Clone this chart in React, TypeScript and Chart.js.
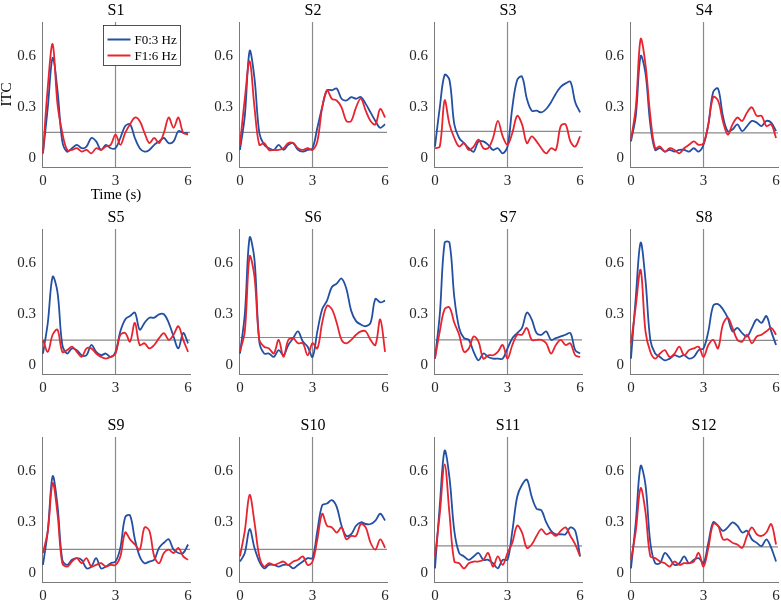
import React, { useEffect, useRef } from 'react';
import { Chart, registerables } from 'chart.js';

Chart.register(...registerables);

// time axis (s)
const time = [0, 0.2, 0.4, 0.6, 0.8, 1.0, 1.2, 1.4, 1.6, 1.8, 2.0, 2.2, 2.4, 2.6, 2.8, 3.0,
  3.2, 3.4, 3.6, 3.8, 4.0, 4.2, 4.4, 4.6, 4.8, 5.0, 5.2, 5.4, 5.6, 5.8, 6.0];

const panelNames = ['S1', 'S2', 'S3', 'S4', 'S5', 'S6', 'S7', 'S8', 'S9', 'S10', 'S11', 'S12'];
const seriesLabels = ['F0:3 Hz', 'F1:6 Hz'];
const yTickValues = [0, 0.3, 0.6];
const xTickValues = [0, 3, 6];
const onsetTime = 3;
const thresholds = [0.153, 0.153, 0.159, 0.15, 0.148, 0.164, 0.15, 0.147, 0.141, 0.141, 0.162, 0.156];

// F0: 3 Hz (blue) / F1: 6 Hz (red)
const s1F0 = [0.03, 0.3, 0.59, 0.4, 0.1, 0.04, 0.06, 0.08, 0.06, 0.07, 0.12, 0.1, 0.05, 0.08, 0.06, 0.06, 0.12, 0.19, 0.2, 0.12, 0.06, 0.04, 0.05, 0.08, 0.1, 0.12, 0.09, 0.1, 0.16, 0.15, 0.15];
const s1F1 = [0.03, 0.42, 0.67, 0.32, 0.15, 0.05, 0.05, 0.06, 0.04, 0.05, 0.03, 0.06, 0.05, 0.07, 0.08, 0.14, 0.08, 0.15, 0.2, 0.24, 0.22, 0.15, 0.09, 0.12, 0.09, 0.15, 0.24, 0.18, 0.24, 0.15, 0.14];
const s2F0 = [0.05, 0.25, 0.63, 0.47, 0.15, 0.08, 0.06, 0.05, 0.08, 0.05, 0.08, 0.09, 0.05, 0.04, 0.05, 0.06, 0.18, 0.3, 0.4, 0.4, 0.41, 0.35, 0.34, 0.36, 0.35, 0.36, 0.32, 0.27, 0.22, 0.18, 0.2];
const s2F1 = [0.08, 0.35, 0.57, 0.3, 0.08, 0.09, 0.05, 0.05, 0.05, 0.06, 0.09, 0.09, 0.06, 0.05, 0.06, 0.05, 0.1, 0.3, 0.4, 0.35, 0.34, 0.3, 0.22, 0.22, 0.3, 0.35, 0.28, 0.22, 0.2, 0.29, 0.24];
const s3F0 = [0.07, 0.3, 0.49, 0.46, 0.2, 0.12, 0.09, 0.06, 0.04, 0.1, 0.1, 0.08, 0.05, 0.06, 0.03, 0.07, 0.3, 0.46, 0.48, 0.35, 0.28, 0.28, 0.27, 0.29, 0.33, 0.38, 0.42, 0.44, 0.45, 0.33, 0.27];
const s3F1 = [0.06, 0.07, 0.34, 0.2, 0.12, 0.07, 0.09, 0.05, 0.07, 0.11, 0.06, 0.06, 0.12, 0.22, 0.13, 0.08, 0.15, 0.25, 0.2, 0.09, 0.13, 0.1, 0.06, 0.03, 0.06, 0.05, 0.19, 0.2, 0.1, 0.07, 0.13];
const s4F0 = [0.1, 0.25, 0.6, 0.5, 0.2, 0.05, 0.06, 0.04, 0.05, 0.04, 0.05, 0.05, 0.04, 0.06, 0.04, 0.08, 0.2, 0.39, 0.41, 0.25, 0.16, 0.17, 0.2, 0.16, 0.19, 0.22, 0.21, 0.19, 0.22, 0.21, 0.16];
const s4F1 = [0.11, 0.3, 0.7, 0.55, 0.25, 0.06, 0.07, 0.04, 0.06, 0.05, 0.03, 0.06, 0.08, 0.1, 0.08, 0.09, 0.2, 0.36, 0.34, 0.22, 0.14, 0.2, 0.24, 0.22, 0.27, 0.3, 0.25, 0.25, 0.19, 0.2, 0.12];
const s5F0 = [0.07, 0.25, 0.52, 0.43, 0.12, 0.07, 0.1, 0.09, 0.06, 0.06, 0.12, 0.08, 0.06, 0.07, 0.05, 0.08, 0.2, 0.27, 0.29, 0.31, 0.21, 0.25, 0.28, 0.28, 0.3, 0.3, 0.25, 0.17, 0.1, 0.19, 0.13];
const s5F1 = [0.15, 0.08, 0.18, 0.21, 0.08, 0.09, 0.11, 0.08, 0.05, 0.1, 0.1, 0.07, 0.05, 0.04, 0.05, 0.07, 0.18, 0.19, 0.14, 0.25, 0.12, 0.13, 0.1, 0.12, 0.16, 0.19, 0.15, 0.18, 0.23, 0.15, 0.08];
const s6F0 = [0.07, 0.3, 0.75, 0.62, 0.14, 0.07, 0.07, 0.05, 0.09, 0.06, 0.12, 0.16, 0.2, 0.14, 0.11, 0.05, 0.2, 0.33, 0.38, 0.46, 0.48, 0.51, 0.45, 0.32, 0.26, 0.24, 0.23, 0.25, 0.39, 0.37, 0.38];
const s6F1 = [0.08, 0.2, 0.64, 0.52, 0.15, 0.11, 0.1, 0.07, 0.15, 0.05, 0.15, 0.16, 0.13, 0.13, 0.06, 0.13, 0.1, 0.25, 0.35, 0.33, 0.25, 0.15, 0.13, 0.15, 0.18, 0.2, 0.2, 0.15, 0.12, 0.27, 0.08];
const s7F0 = [0.04, 0.3, 0.72, 0.72, 0.4, 0.22, 0.16, 0.15, 0.08, 0.03, 0.07, 0.05, 0.04, 0.04, 0.04, 0.1, 0.16, 0.19, 0.22, 0.31, 0.27, 0.19, 0.18, 0.2, 0.15, 0.16, 0.17, 0.18, 0.19, 0.09, 0.07];
const s7F1 = [0.04, 0.2, 0.33, 0.34, 0.25, 0.18, 0.08, 0.1, 0.17, 0.14, 0.04, 0.06, 0.06, 0.08, 0.12, 0.04, 0.12, 0.18, 0.18, 0.22, 0.15, 0.15, 0.15, 0.13, 0.07, 0.12, 0.15, 0.12, 0.13, 0.06, 0.05];
const s8F0 = [0.04, 0.4, 0.72, 0.5, 0.15, 0.07, 0.05, 0.03, 0.04, 0.06, 0.05, 0.06, 0.04, 0.05, 0.09, 0.1, 0.2, 0.35, 0.36, 0.33, 0.28, 0.2, 0.22, 0.19, 0.17, 0.22, 0.27, 0.25, 0.29, 0.2, 0.12];
const s8F1 = [0.13, 0.35, 0.56, 0.2, 0.08, 0.04, 0.07, 0.09, 0.05, 0.07, 0.11, 0.06, 0.09, 0.1, 0.11, 0.05, 0.12, 0.15, 0.1, 0.24, 0.28, 0.22, 0.15, 0.14, 0.18, 0.13, 0.17, 0.18, 0.2, 0.22, 0.18];
const s9F0 = [0.05, 0.25, 0.57, 0.4, 0.08, 0.05, 0.08, 0.09, 0.08, 0.03, 0.04, 0.09, 0.03, 0.04, 0.06, 0.07, 0.15, 0.33, 0.34, 0.2, 0.1, 0.06, 0.07, 0.08, 0.15, 0.18, 0.2, 0.14, 0.12, 0.12, 0.17];
const s9F1 = [0.12, 0.25, 0.53, 0.35, 0.06, 0.04, 0.07, 0.09, 0.06, 0.09, 0.04, 0.05, 0.06, 0.04, 0.05, 0.05, 0.1, 0.24, 0.2, 0.17, 0.14, 0.27, 0.25, 0.1, 0.06, 0.12, 0.14, 0.12, 0.15, 0.1, 0.08];
const s10F0 = [0.07, 0.12, 0.26, 0.15, 0.07, 0.03, 0.05, 0.05, 0.04, 0.05, 0.05, 0.03, 0.05, 0.07, 0.09, 0.09, 0.25, 0.4, 0.41, 0.43, 0.39, 0.28, 0.22, 0.23, 0.28, 0.3, 0.29, 0.29, 0.31, 0.35, 0.31];
const s10F1 = [0.1, 0.25, 0.46, 0.3, 0.1, 0.04, 0.06, 0.05, 0.06, 0.07, 0.05, 0.07, 0.08, 0.1, 0.05, 0.07, 0.2, 0.35, 0.28, 0.27, 0.24, 0.27, 0.2, 0.22, 0.22, 0.29, 0.27, 0.18, 0.14, 0.2, 0.15];
const s11F0 = [0.03, 0.4, 0.72, 0.56, 0.25, 0.12, 0.1, 0.08, 0.1, 0.12, 0.08, 0.08, 0.06, 0.03, 0.08, 0.08, 0.25, 0.45, 0.52, 0.55, 0.45, 0.38, 0.37, 0.3, 0.25, 0.23, 0.23, 0.23, 0.27, 0.25, 0.1];
const s11F1 = [0.1, 0.35, 0.64, 0.35, 0.07, 0.06, 0.03, 0.06, 0.07, 0.07, 0.08, 0.12, 0.04, 0.1, 0.05, 0.12, 0.18, 0.28, 0.24, 0.15, 0.17, 0.22, 0.26, 0.23, 0.24, 0.22, 0.25, 0.27, 0.22, 0.17, 0.1];
const s12F0 = [0.03, 0.3, 0.63, 0.52, 0.18, 0.06, 0.06, 0.12, 0.09, 0.05, 0.06, 0.1, 0.06, 0.08, 0.09, 0.06, 0.18, 0.3, 0.28, 0.25, 0.27, 0.3, 0.28, 0.24, 0.25, 0.2, 0.18, 0.16, 0.2, 0.15, 0.07];
const s12F1 = [0.08, 0.25, 0.5, 0.36, 0.1, 0.09, 0.07, 0.06, 0.04, 0.07, 0.05, 0.06, 0.06, 0.07, 0.12, 0.04, 0.15, 0.29, 0.28, 0.2, 0.2, 0.18, 0.17, 0.15, 0.22, 0.27, 0.23, 0.22, 0.24, 0.29, 0.17];

const f0Series = [s1F0, s2F0, s3F0, s4F0, s5F0, s6F0, s7F0, s8F0, s9F0, s10F0, s11F0, s12F0];
const f1Series = [s1F1, s2F1, s3F1, s4F1, s5F1, s6F1, s7F1, s8F1, s9F1, s10F1, s11F1, s12F1];

const X_MIN = -0.04;
const X_MAX = 6.08;
const Y_MIN = -0.05;
const Y_MAX = 0.8;

const BLUE = '#2350a3';
const RED = '#e8242f';
const GRAY = '#8a8a8a';
const FONT = "'Liberation Serif', 'DejaVu Serif', serif";

// page layout of the grid
const colLefts = [42.3, 239, 434.3, 630];
const rowTops = [22.2, 229, 436.7];
const PLOT_W = 148;
const PLOT_H = 145;
const TITLE_H = 22;
const PAD_R = 8;

Chart.defaults.font.family = FONT;

const legendBox = {
  id: 'legendBox',
  afterDraw(chart: Chart) {
    const { ctx, chartArea } = chart;
    const x = Math.round(chartArea.left + 61) + 0.5;
    const y = Math.round(chartArea.top + 3) + 0.5;
    ctx.save();
    ctx.fillStyle = '#ffffff';
    ctx.fillRect(x, y, 77, 40);
    ctx.strokeStyle = '#262626';
    ctx.lineWidth = 0.8;
    ctx.strokeRect(x, y, 77, 40);
    const colors = [BLUE, RED];
    seriesLabels.forEach((label, i) => {
      const ly = y + 14 + i * 16;
      ctx.strokeStyle = colors[i];
      ctx.lineWidth = 2;
      ctx.beginPath();
      ctx.moveTo(x + 4, ly);
      ctx.lineTo(x + 27, ly);
      ctx.stroke();
      ctx.fillStyle = '#000000';
      ctx.font = `13px ${FONT}`;
      ctx.textBaseline = 'middle';
      ctx.textAlign = 'left';
      ctx.fillText(label, x + 31, ly + 1);
    });
    ctx.restore();
  },
};

const Panel = ({ index }: { index: number }) => {
  const canvasRef = useRef<HTMLCanvasElement>(null);
  const first = index === 0;
  const yW = first ? 42 : 36;
  const xH = first ? 36 : 26;
  const width = yW + PLOT_W + PAD_R;
  const height = TITLE_H + PLOT_H + xH;
  const col = index % 4;
  const row = Math.floor(index / 4);
  const left = colLefts[col] - yW;
  const top = rowTops[row] - TITLE_H;

  useEffect(() => {
    if (!canvasRef.current) return;
    const toPoints = (vals: number[]) => time.map((t, i) => ({ x: t, y: vals[i] }));
    const thr = thresholds[index];

    const chart = new Chart(canvasRef.current, {
      type: 'line',
      data: {
        datasets: [
          {
            label: seriesLabels[1],
            data: toPoints(f1Series[index]),
            borderColor: RED,
            borderWidth: 1.8,
            pointRadius: 0,
            tension: 0.35,
          },
          {
            label: seriesLabels[0],
            data: toPoints(f0Series[index]),
            borderColor: BLUE,
            borderWidth: 1.8,
            pointRadius: 0,
            tension: 0.35,
          },
          {
            label: 'threshold',
            data: [{ x: X_MIN, y: thr }, { x: X_MAX, y: thr }],
            borderColor: GRAY,
            borderWidth: 1.2,
            pointRadius: 0,
          },
          {
            label: 'onset',
            data: [{ x: onsetTime, y: Y_MIN }, { x: onsetTime, y: Y_MAX }],
            borderColor: GRAY,
            borderWidth: 1.2,
            pointRadius: 0,
          },
        ],
      },
      options: {
        responsive: false,
        animation: false,
        events: [],
        layout: { padding: { left: 0, right: PAD_R, top: 0, bottom: 0 } },
        plugins: {
          legend: { display: false },
          tooltip: { enabled: false },
          title: {
            display: true,
            text: panelNames[index],
            fullSize: false,
            color: '#000000',
            font: { family: FONT, size: 16, weight: 'normal', lineHeight: 1.2 },
            padding: { top: 1.4, bottom: 1.4 },
          },
        },
        scales: {
          x: {
            type: 'linear',
            min: X_MIN,
            max: X_MAX,
            afterBuildTicks: (scale: any) => {
              scale.ticks = xTickValues.map((v) => ({ value: v }));
            },
            afterFit: (scale: any) => {
              scale.height = xH;
            },
            grid: { display: false, drawTicks: false },
            border: { display: true, color: '#7a7a7a', width: 1 },
            ticks: {
              padding: 5,
              maxRotation: 0,
              autoSkip: false,
              color: '#262626',
              font: { family: FONT, size: 15 },
              callback: (v: any) => String(v),
            },
            title: {
              display: first,
              text: 'Time (s)',
              color: '#000000',
              font: { family: FONT, size: 15, lineHeight: 1 },
              padding: 0,
            },
          },
          y: {
            type: 'linear',
            min: Y_MIN,
            max: Y_MAX,
            afterBuildTicks: (scale: any) => {
              scale.ticks = yTickValues.map((v) => ({ value: v }));
            },
            afterFit: (scale: any) => {
              scale.width = yW;
            },
            grid: { display: false, drawTicks: false },
            border: { display: true, color: '#7a7a7a', width: 1 },
            ticks: {
              padding: 6,
              autoSkip: false,
              color: '#262626',
              font: { family: FONT, size: 15 },
              callback: (v: any) => String(v),
            },
            title: {
              display: first,
              text: 'ITC',
              color: '#000000',
              font: { family: FONT, size: 15, lineHeight: 1 },
              padding: 0,
            },
          },
        },
      },
      plugins: first ? [legendBox] : [],
    });

    return () => {
      chart.destroy();
    };
  }, [index]);

  return (
    <canvas
      ref={canvasRef}
      width={width}
      height={height}
      style={{ position: 'absolute', left, top, width, height }}
    />
  );
};

const App = () => {
  return (
    <div style={{ position: 'absolute', left: 0, top: 0, width: 781, height: 600, background: '#ffffff' }}>
      {panelNames.map((name, i) => (
        <Panel key={name} index={i} />
      ))}
    </div>
  );
};

export default App;
